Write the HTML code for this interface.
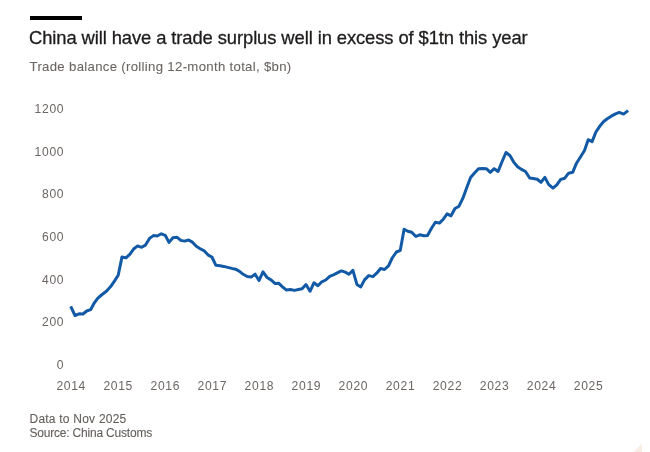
<!DOCTYPE html>
<html lang="en">
<head>
<meta charset="utf-8">
<title>China will have a trade surplus well in excess of $1tn this year</title>
<style>
html,body{margin:0;padding:0;background:#fff;}
body{width:650px;height:452px;position:relative;overflow:hidden;filter:blur(0.45px);font-family:"Liberation Sans",sans-serif;}
.bar{position:absolute;left:29.5px;top:16px;width:52.5px;height:4px;background:#000;}
.title{position:absolute;left:29px;top:27px;font-size:18.4px;line-height:22px;color:#1f1d1c;white-space:nowrap;letter-spacing:-0.1px;-webkit-text-stroke:0.3px #1f1d1c;transform-origin:0 0;}
.sub{position:absolute;left:29.5px;top:58.6px;font-size:13.2px;letter-spacing:0.31px;-webkit-text-stroke:0.08px #6c6663;line-height:16px;color:#6c6663;white-space:nowrap;transform-origin:0 0;}
.foot{position:absolute;left:29.5px;font-size:12px;line-height:14px;color:#635e5a;-webkit-text-stroke:0.1px #635e5a;white-space:nowrap;transform-origin:0 0;}
#f1{top:411.6px;letter-spacing:0.225px;}
#f2{top:426.4px;letter-spacing:-0.2px;}
svg{position:absolute;left:0;top:0;}
svg text{font-family:"Liberation Sans",sans-serif;font-size:12.1px;fill:#6c6663;letter-spacing:0.67px;}
</style>
</head>
<body>
<div class="bar"></div>
<div class="title" id="title">China will have a trade surplus well in excess of $1tn this year</div>
<div class="sub" id="sub">Trade balance (rolling 12-month total, $bn)</div>
<svg width="650" height="452" viewBox="0 0 650 452">
<g id="ylab"><text x="64.2" y="368.8" text-anchor="end">0</text><text x="64.2" y="326.1" text-anchor="end">200</text><text x="64.2" y="283.5" text-anchor="end">400</text><text x="64.2" y="240.9" text-anchor="end">600</text><text x="64.2" y="198.2" text-anchor="end">800</text><text x="64.2" y="155.6" text-anchor="end">1000</text><text x="64.2" y="113.0" text-anchor="end">1200</text></g>
<g id="xlab"><text x="71.2" y="389.5" text-anchor="middle">2014</text><text x="118.2" y="389.5" text-anchor="middle">2015</text><text x="165.3" y="389.5" text-anchor="middle">2016</text><text x="212.3" y="389.5" text-anchor="middle">2017</text><text x="259.4" y="389.5" text-anchor="middle">2018</text><text x="306.4" y="389.5" text-anchor="middle">2019</text><text x="353.4" y="389.5" text-anchor="middle">2020</text><text x="400.5" y="389.5" text-anchor="middle">2021</text><text x="447.5" y="389.5" text-anchor="middle">2022</text><text x="494.6" y="389.5" text-anchor="middle">2023</text><text x="541.6" y="389.5" text-anchor="middle">2024</text><text x="588.6" y="389.5" text-anchor="middle">2025</text></g>
<polyline fill="none" stroke="#1259a6" stroke-width="3" stroke-linejoin="round" stroke-linecap="butt" points="70.7,306.3 75.0,315.5 79.0,313.8 83.0,314.0 86.7,311.0 90.6,309.7 94.2,303.0 97.9,298.2 102.1,294.5 106.4,291.2 110.7,286.6 114.6,280.8 118.2,275.3 122.0,256.9 126.0,257.9 130.0,254.2 133.9,248.7 137.6,245.9 141.6,247.3 145.5,245.1 149.5,238.4 153.4,235.6 157.3,236.0 161.3,233.8 165.2,235.3 169.0,242.4 172.9,237.8 176.9,237.2 180.8,240.4 184.5,241.1 188.7,240.0 192.7,242.4 196.3,246.3 200.2,248.7 204.3,250.9 208.2,255.1 211.9,257.0 215.8,265.2 220.1,265.8 223.7,266.4 227.6,267.4 231.7,268.4 235.5,269.2 239.2,271.1 243.2,274.3 247.2,276.5 251.1,277.1 255.1,274.2 259.0,280.5 263.0,271.8 267.1,277.5 271.0,279.9 274.9,283.4 278.6,283.2 282.5,286.8 286.5,290.1 290.4,289.5 294.5,290.4 298.4,289.5 302.1,288.7 306.0,284.5 310.0,291.3 313.9,282.8 317.9,285.7 321.8,281.8 325.7,280.0 329.7,276.3 333.4,274.8 337.3,272.9 341.3,270.9 345.2,272.1 349.0,274.3 352.9,270.4 356.9,284.4 360.8,286.9 364.5,279.9 368.7,275.6 372.9,276.6 376.7,273.2 380.6,268.5 384.5,269.5 388.5,265.9 392.2,258.0 396.4,252.0 400.3,250.3 404.1,229.3 407.8,231.3 411.7,232.3 415.9,236.5 419.7,234.8 423.9,235.8 427.5,235.4 431.5,228.3 435.4,222.2 439.4,223.1 443.3,219.2 447.1,213.9 451.0,215.8 455.0,208.5 459.0,206.2 462.9,198.2 466.8,187.5 470.6,177.5 474.5,173.0 478.5,168.7 482.4,168.4 486.3,168.7 490.3,172.4 494.2,168.7 498.1,171.4 501.9,162.0 506.0,152.5 509.9,155.5 513.7,162.1 517.6,166.8 521.6,169.4 525.5,171.5 529.7,178.0 533.3,178.6 537.2,179.3 541.0,182.3 544.9,177.4 548.6,184.4 553.0,188.2 556.8,184.9 560.7,179.4 564.8,178.2 568.6,173.2 572.7,172.3 576.5,163.2 580.6,156.7 584.5,150.5 588.2,139.7 592.1,141.6 595.9,132.0 599.7,126.3 603.7,121.5 607.6,118.5 611.7,115.9 615.5,113.9 619.3,112.4 623.5,114.1 628.1,110.6"/>
<polygon points="633.5,452 642,443.5 642,452" fill="#f9eee4"/>
</svg>
<div class="foot" id="f1">Data to Nov 2025</div>
<div class="foot" id="f2">Source: China Customs</div>
</body>
</html>
